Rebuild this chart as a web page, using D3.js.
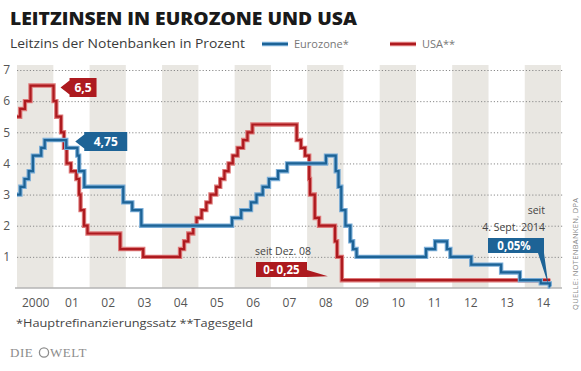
<!DOCTYPE html>
<html>
<head>
<meta charset="utf-8">
<script src="https://cdn.jsdelivr.net/npm/d3@7"></script>
<style>
  html, body { margin: 0; padding: 0; background: #fff; }
  svg { display: block; font-family: "Open Sans", "Noto Sans", sans-serif; }
</style>
</head>
<body>
<svg id="chart" width="581" height="371"></svg>
<script>
// Leitzins der Europäischen Zentralbank (Hauptrefinanzierungssatz), Änderungsdaten
const euroDates = ["2000-01-01","2000-02-04","2000-03-17","2000-04-28","2000-06-09","2000-09-01","2000-10-06",
  "2001-05-11","2001-08-31","2001-09-18","2001-11-09","2002-12-06","2003-03-07","2003-06-06",
  "2005-12-06","2006-03-08","2006-06-15","2006-08-09","2006-10-11","2006-12-13","2007-03-14","2007-06-13",
  "2008-07-09","2008-10-15","2008-11-12","2008-12-10","2009-01-21","2009-03-11","2009-04-08","2009-05-13",
  "2011-04-13","2011-07-13","2011-11-09","2011-12-14","2012-07-11","2013-05-08","2013-11-13",
  "2014-06-11","2014-09-10","2014-09-15"];
const euroRates = [3.00,3.25,3.50,3.75,4.25,4.50,4.75,
  4.50,4.25,3.75,3.25,2.75,2.50,2.00,
  2.25,2.50,2.75,3.00,3.25,3.50,3.75,4.00,
  4.25,3.75,3.25,2.50,2.00,1.50,1.25,1.00,
  1.25,1.50,1.25,1.00,0.75,0.50,0.25,
  0.15,0.05,0.05];

// Leitzins der US-Notenbank (Tagesgeld-Zielsatz), Änderungsdaten
const usDates = ["2000-01-01","2000-02-02","2000-03-21","2000-05-16",
  "2001-01-03","2001-01-31","2001-03-20","2001-04-18","2001-05-15","2001-06-27","2001-08-21","2001-09-17",
  "2001-10-02","2001-11-06","2001-12-11","2002-11-06","2003-06-25",
  "2004-06-30","2004-08-10","2004-09-21","2004-11-10","2004-12-14","2005-02-02","2005-03-22","2005-05-03",
  "2005-06-30","2005-08-09","2005-09-20","2005-11-01","2005-12-13","2006-01-31","2006-03-28","2006-05-10",
  "2006-06-29","2007-09-18","2007-10-31","2007-12-11","2008-01-22","2008-01-30","2008-03-18","2008-04-30",
  "2008-10-08","2008-10-29","2008-12-16","2014-09-15"];
const usRates = [5.50,5.75,6.00,6.50,
  6.00,5.50,5.00,4.50,4.00,3.75,3.50,3.00,
  2.50,2.00,1.75,1.25,1.00,
  1.25,1.50,1.75,2.00,2.25,2.50,2.75,3.00,
  3.25,3.50,3.75,4.00,4.25,4.50,4.75,5.00,
  5.25,4.75,4.50,4.25,3.50,3.00,2.25,2.00,
  1.50,1.00,0.25,0.25];

const years = [2000,2001,2002,2003,2004,2005,2006,2007,2008,2009,2010,2011,2012,2013,2014];
const yearLabels = ["2000","01","02","03","04","05","06","07","08","09","10","11","12","13","14"];
const yTicks = [1,2,3,4,5,6,7];

const BLUE = "#1d6396", BLUE_LIGHT = "#79acd6";
const RED = "#ad1a1f", RED_LIGHT = "#de7a7a";

const parse = d3.timeParse("%Y-%m-%d");
const euro = euroDates.map((d, i) => ({ date: parse(d), value: euroRates[i] }));
const us = usDates.map((d, i) => ({ date: parse(d), value: usRates[i] }));

const svg = d3.select("#chart");

const x = d3.scaleTime()
  .domain([new Date(2000, 0, 1), new Date(2015, 0, 1)])
  .range([17, 561]);
const y = d3.scaleLinear().domain([0, 7]).range([288, 70]);

// Title, subtitle, legend
svg.append("text").attr("x", 10).attr("y", 25)
  .attr("font-size", 17).attr("font-weight", 800).attr("fill", "#1a1a1a")
  .attr("textLength", 347).attr("lengthAdjust", "spacingAndGlyphs")
  .text("LEITZINSEN IN EUROZONE UND USA");
svg.append("text").attr("x", 10).attr("y", 48)
  .attr("font-size", 12).attr("fill", "#3a3a3a")
  .attr("textLength", 235).attr("lengthAdjust", "spacingAndGlyphs")
  .text("Leitzins der Notenbanken in Prozent");

const legend = [
  { x0: 262, label: "Eurozone*", color: BLUE, light: BLUE_LIGHT },
  { x0: 390, label: "USA**", color: RED, light: RED_LIGHT }
];
legend.forEach(l => {
  svg.append("line").attr("x1", l.x0).attr("x2", l.x0 + 26).attr("y1", 44).attr("y2", 44)
    .attr("stroke", l.light).attr("stroke-width", 4.5);
  svg.append("line").attr("x1", l.x0).attr("x2", l.x0 + 26).attr("y1", 44).attr("y2", 44)
    .attr("stroke", l.color).attr("stroke-width", 2.2);
  svg.append("text").attr("x", l.x0 + 32).attr("y", 48)
    .attr("font-size", 11).attr("fill", "#777").text(l.label);
});

// Alternating year bands
svg.append("g").selectAll("rect")
  .data(years.filter(yr => yr % 2 === 0))
  .join("rect")
  .attr("x", d => x(new Date(d, 0, 1)))
  .attr("width", d => x(new Date(d + 1, 0, 1)) - x(new Date(d, 0, 1)))
  .attr("y", 65).attr("height", 288 - 65)
  .attr("fill", "#e9e7e2");

// Dotted gridlines and y labels
const yAxis = svg.append("g").attr("transform", "translate(17,0)")
  .call(d3.axisLeft(y).tickValues(yTicks).tickSize(-546).tickPadding(7).tickFormat(d3.format("d")));
yAxis.select(".domain").remove();
yAxis.selectAll(".tick line")
  .attr("stroke", "#8a8a8a").attr("stroke-width", 1).attr("stroke-dasharray", "1.2,2");
yAxis.selectAll(".tick text")
  .attr("font-size", 12).attr("fill", "#555").attr("font-family", "'Open Sans', sans-serif");

// Baseline
svg.append("line").attr("x1", 15).attr("x2", 562).attr("y1", y(0)).attr("y2", y(0))
  .attr("stroke", "#b5b5b5").attr("stroke-width", 1.5);

// X labels centred in each year
const xAxis = svg.append("g").attr("transform", `translate(0,${y(0)})`)
  .call(d3.axisBottom(x)
    .tickValues(years.map(yr => new Date(yr, 6, 2)))
    .tickSize(0).tickPadding(10)
    .tickFormat((d, i) => yearLabels[i]));
xAxis.select(".domain").remove();
xAxis.selectAll(".tick text")
  .attr("font-size", 12).attr("fill", "#555").attr("font-family", "'Open Sans', sans-serif");

// Step lines
const line = d3.line().x(d => x(d.date)).y(d => y(d.value)).curve(d3.curveStepAfter);
[[us, RED, RED_LIGHT], [euro, BLUE, BLUE_LIGHT]].forEach(([data, c, lc]) => {
  svg.append("path").datum(data).attr("d", line)
    .attr("fill", "none").attr("stroke", lc).attr("stroke-width", 4.4).attr("stroke-linejoin", "miter");
  svg.append("path").datum(data).attr("d", line)
    .attr("fill", "none").attr("stroke", c).attr("stroke-width", 2.2).attr("stroke-linejoin", "miter");
});

const fmt = v => String(v).replace(".", ",");

// Callout box with arrow pointing left to a level
function leftCallout(px, py, text, color, w) {
  const g = svg.append("g");
  const bx = px + 9, h = 17;
  g.append("path")
    .attr("d", `M${px},${py} L${bx},${py - 7} L${bx},${py - h / 2 - 1} L${bx + w},${py - h / 2 - 1} L${bx + w},${py + h / 2 + 1} L${bx},${py + h / 2 + 1} L${bx},${py + 7} Z`)
    .attr("fill", color);
  g.append("text").attr("x", bx + w / 2).attr("y", py + 4.5)
    .attr("text-anchor", "middle").attr("font-size", 12).attr("font-weight", 700)
    .attr("fill", "#fff").text(text);
}

const usPeak = d3.max(usRates);
const usPeakEnd = us[usRates.indexOf(usPeak) + 1];
leftCallout(x(usPeakEnd.date) + 7, y(usPeak) + 2, fmt(usPeak), RED, 27);

const euroPeak = d3.max(euroRates.slice(0, 10));
const euroPeakEnd = euro[euroRates.indexOf(euroPeak) + 1];
leftCallout(x(euroPeakEnd.date) + 9, y(euroPeak) + 1.5, fmt(euroPeak), BLUE, 43);

// US: since December 2008
const usLast = us[us.length - 2];
svg.append("text").attr("x", 255).attr("y", 255)
  .attr("font-size", 10.5).attr("fill", "#444").text("seit Dez. 08");
svg.append("path")
  .attr("d", `M256,262 L307,262 L307,270 L${x(usLast.date) - 14},${y(usLast.value) - 4} L307,277 L256,277 Z`)
  .attr("fill", RED);
svg.append("text").attr("x", 281.5).attr("y", 274)
  .attr("text-anchor", "middle").attr("font-size", 11.5).attr("font-weight", 700)
  .attr("fill", "#fff").text("0- " + fmt(usLast.value));

// Eurozone: since 4 Sept 2014
const euroLast = euro[euro.length - 1];
svg.append("text").attr("x", 545).attr("y", 214).attr("text-anchor", "end")
  .attr("font-size", 10.5).attr("fill", "#444").text("seit");
svg.append("text").attr("x", 545).attr("y", 231).attr("text-anchor", "end")
  .attr("font-size", 10.5).attr("fill", "#444").text("4. Sept. 2014");
svg.append("path")
  .attr("d", `M488,238 L544,238 L544,253 L${x(euroLast.date) - 2},${y(euroLast.value) - 2} L538,253 L488,253 Z`)
  .attr("fill", BLUE);
svg.append("text").attr("x", 514).attr("y", 250)
  .attr("text-anchor", "middle").attr("font-size", 11.5).attr("font-weight", 700)
  .attr("fill", "#fff").text(fmt(euroLast.value) + "%");

// Source
svg.append("text").attr("transform", "translate(578,310) rotate(-90)")
  .attr("font-size", 7.5).attr("fill", "#888").attr("letter-spacing", 0.3)
  .text("QUELLE: NOTENBANKEN, DPA");

// Footnote
svg.append("text").attr("x", 16).attr("y", 327)
  .attr("font-size", 10).attr("fill", "#444")
  .attr("textLength", 237).attr("lengthAdjust", "spacingAndGlyphs")
  .text("*Hauptrefinanzierungssatz  **Tagesgeld");

// Publisher mark
const logo = svg.append("g").attr("fill", "#8c8c8c")
  .attr("font-family", "'Liberation Serif', serif").attr("font-size", 13).attr("letter-spacing", 0.5);
logo.append("text").attr("x", 10).attr("y", 357).text("DIE");
logo.append("circle").attr("cx", 44).attr("cy", 352.5).attr("r", 4.6)
  .attr("fill", "none").attr("stroke", "#8c8c8c").attr("stroke-width", 1.3);
logo.append("text").attr("x", 50).attr("y", 357).text("WELT");
</script>
</body>
</html>
